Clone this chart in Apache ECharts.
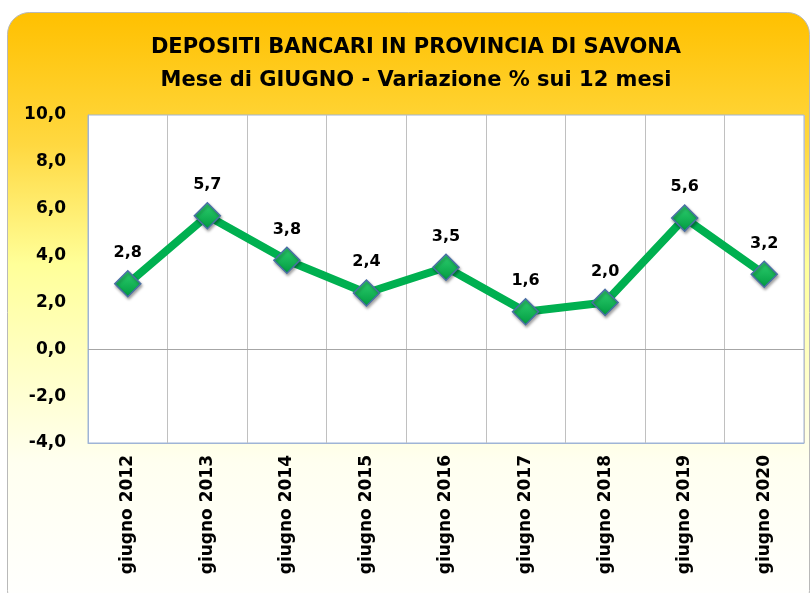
<!DOCTYPE html>
<html>
<head>
<meta charset="utf-8">
<script src="https://cdn.jsdelivr.net/npm/echarts@6/dist/echarts.min.js"></script>
<style>
  html, body { margin: 0; padding: 0; background: #ffffff; }
  #chart { width: 811px; height: 593px; }
</style>
</head>
<body>
<div id="chart"></div>
<script>
// Categories and yearly % change of bank deposits (June)
const categories = ['giugno 2012', 'giugno 2013', 'giugno 2014', 'giugno 2015', 'giugno 2016',
                    'giugno 2017', 'giugno 2018', 'giugno 2019', 'giugno 2020'];
const variazione = [2.8, 5.7, 3.8, 2.4, 3.5, 1.6, 2.0, 5.6, 3.2];
const yMin = -4;
const yMax = 10;
const yStep = 2;

const FONT = '"DejaVu Sans", sans-serif';
const fmt = v => v.toFixed(1).replace('.', ',');

const chart = echarts.init(document.getElementById('chart'), null, { renderer: 'canvas' });

chart.setOption({
  animation: false,
  backgroundColor: '#ffffff',
  graphic: [{
    type: 'rect',
    z: -10,
    shape: { x: 7.5, y: 12.5, width: 802, height: 600, r: 22 },
    style: {
      fill: new echarts.graphic.LinearGradient(0, 0, 0, 1, [
        { offset: 0, color: '#ffc000' },
        { offset: 0.22, color: '#ffd840' },
        { offset: 0.42, color: '#ffff99' },
        { offset: 0.75, color: '#fffff0' },
        { offset: 1, color: '#ffffff' }
      ]),
      stroke: '#b9b9b9',
      lineWidth: 1
    }
  }],
  title: {
    text: 'DEPOSITI BANCARI IN PROVINCIA DI SAVONA\nMese di GIUGNO - Variazione % sui 12 mesi',
    left: 411,
    textAlign: 'center',
    top: 26,
    textStyle: {
      fontFamily: FONT,
      fontSize: 21,
      fontWeight: 'bold',
      color: '#000000',
      lineHeight: 33
    }
  },
  grid: {
    left: 88, right: 7, top: 115, bottom: 150,
    show: true,
    backgroundColor: '#ffffff',
    borderColor: '#9fb4d6',
    borderWidth: 1
  },
  xAxis: {
    type: 'category',
    data: categories,
    boundaryGap: true,
    position: 'bottom',
    axisLine: { show: true, onZero: false, lineStyle: { color: '#9fb4d6', width: 1 } },
    axisTick: { show: false },
    axisLabel: {
      rotate: 90,
      interval: 0,
      margin: 12,
      fontFamily: FONT,
      fontSize: 17,
      fontWeight: 'bold',
      color: '#000000'
    },
    splitLine: { show: true, lineStyle: { color: '#c0c0c0', width: 1 } }
  },
  yAxis: {
    type: 'value',
    min: yMin,
    max: yMax,
    interval: yStep,
    axisLine: { show: true, lineStyle: { color: '#9fb4d6', width: 1 } },
    axisTick: { show: false },
    axisLabel: {
      margin: 22,
      formatter: v => fmt(v),
      fontFamily: FONT,
      fontSize: 17,
      fontWeight: 'bold',
      color: '#000000'
    },
    splitLine: { show: false }
  },
  series: [
    {
      type: 'line',
      data: variazione,
      lineStyle: { color: '#00b050', width: 8 },
      symbol: 'diamond',
      symbolSize: [26, 26],
      itemStyle: {
        color: new echarts.graphic.LinearGradient(0, 0, 0, 1, [
          { offset: 0, color: '#2fd070' },
          { offset: 1, color: '#009a40' }
        ]),
        borderColor: '#4a6fa5',
        borderWidth: 1.5,
        shadowColor: 'rgba(0,0,0,0.35)',
        shadowBlur: 3,
        shadowOffsetX: 1,
        shadowOffsetY: 2
      },
      label: {
        show: true,
        position: 'top',
        distance: 9,
        formatter: p => fmt(p.value),
        fontFamily: FONT,
        fontSize: 16,
        fontWeight: 'bold',
        color: '#000000'
      },
      markLine: {
        silent: true,
        symbol: 'none',
        label: { show: false },
        lineStyle: { color: '#a6a6a6', type: 'solid', width: 1 },
        data: [{ yAxis: 0 }]
      },
      z: 5
    }
  ]
});
</script>
</body>
</html>
